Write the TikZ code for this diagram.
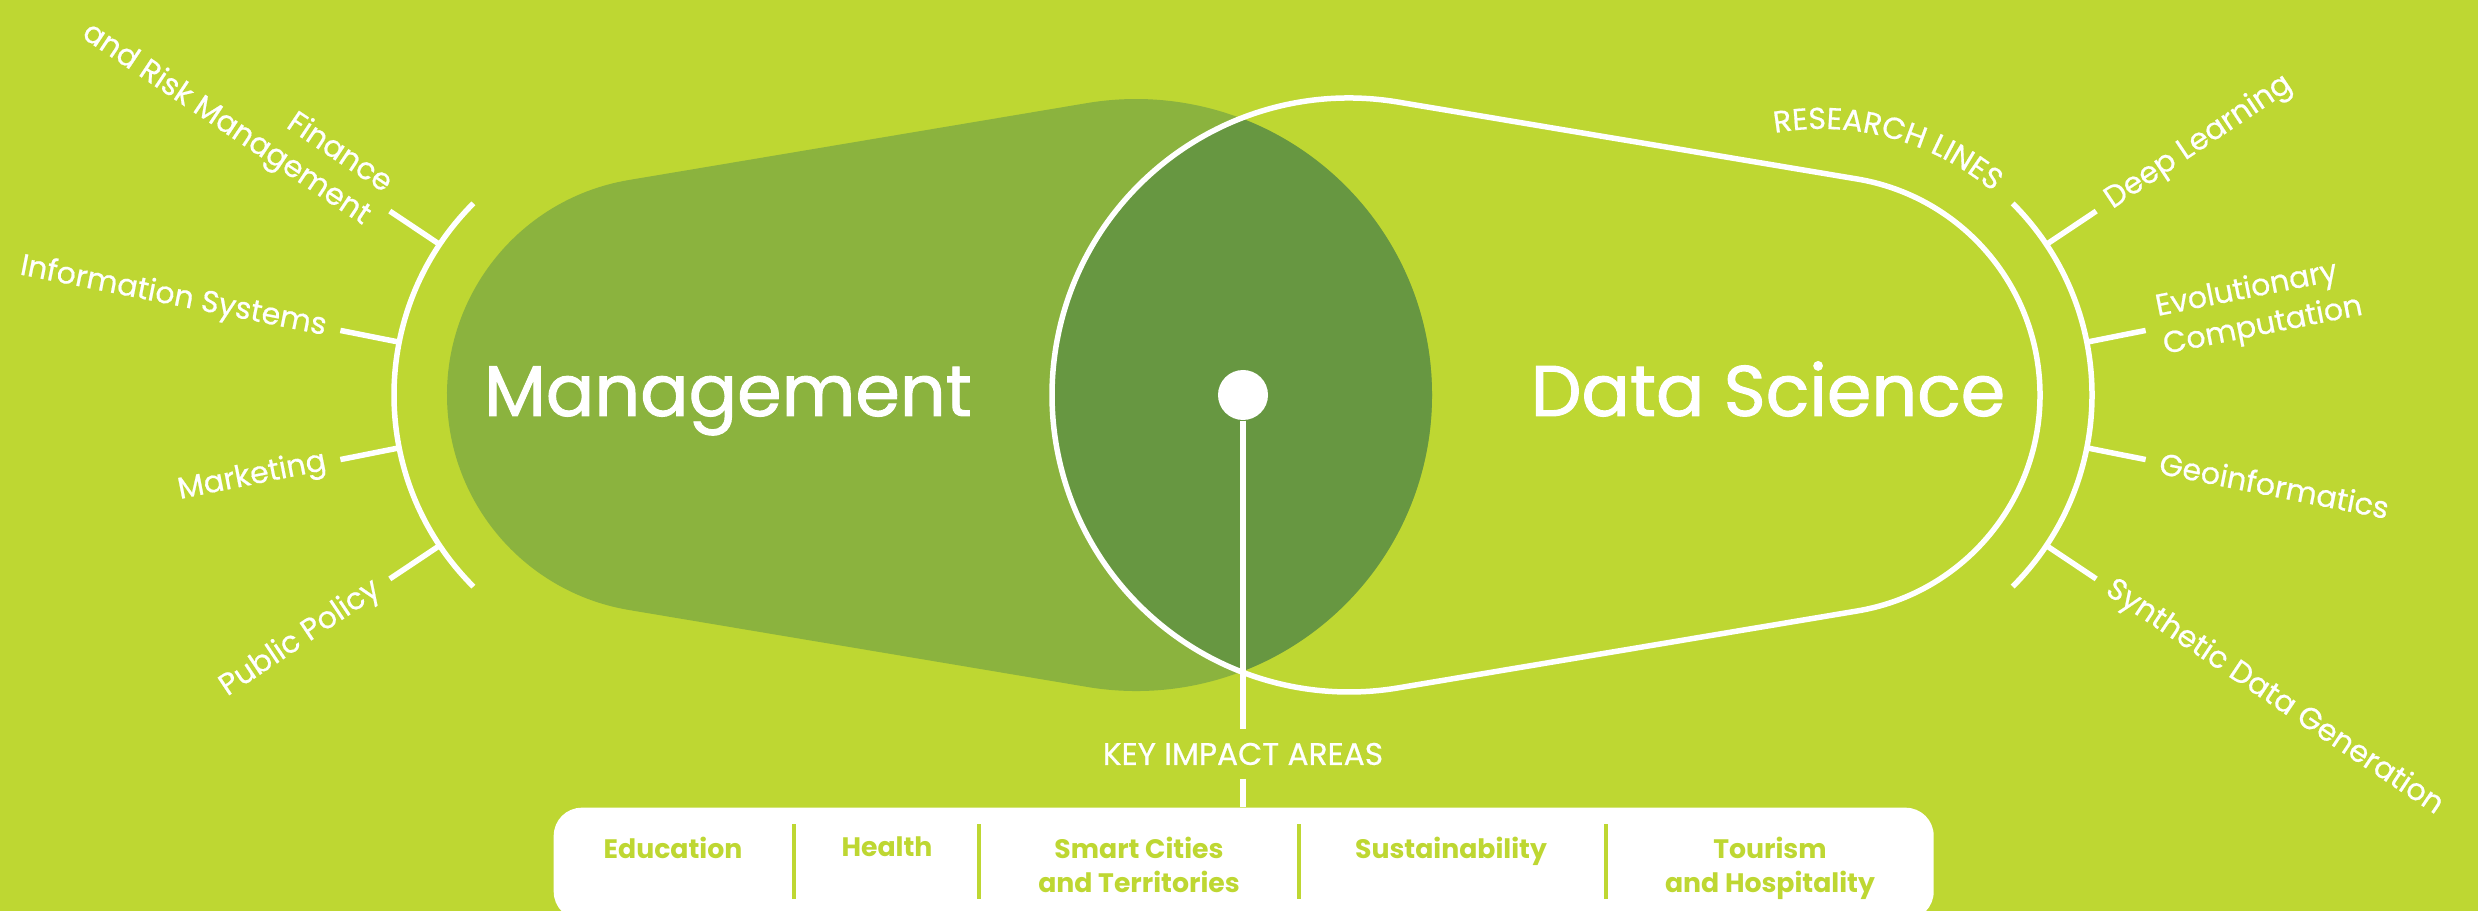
\documentclass[tikz,border=0pt]{standalone}
\usepackage{fontspec}
\setmainfont{Poppins}
\newfontfamily\headfont{Poppins}[FakeBold=1.3]
\newfontfamily\branchfont{Poppins}[FakeBold=0.6]
\usetikzlibrary{calc,positioning,decorations.text}

\definecolor{bggreen}{RGB}{190,215,50}
\definecolor{mgmtgreen}{RGB}{139,179,62}
\definecolor{overlapgreen}{RGB}{103,151,65}

\begin{document}
\begin{tikzpicture}[
    x=0.1mm, y=0.1mm,
    whiteline/.style={white, line width=0.55mm},
    branch/.style={text=white, inner sep=0pt, font=\branchfont\fontsize{8.6}{11}\selectfont},
    heading/.style={text=white, anchor=base, font=\headfont\fontsize{20.4}{24}\selectfont},
    area/.style={text=bggreen, anchor=north, inner sep=0pt, align=center, font=\bfseries\fontsize{7.6}{9.7}\selectfont},
    divider/.style={bggreen, line width=0.4mm}
]
    \useasboundingbox (0,0) rectangle (2478,911);
    \fill[bggreen] (0,0) rectangle (2478,911);

    % Management
    \fill[mgmtgreen] (665,516) ++(99.53:218) arc[start angle=99.53, end angle=260.47, radius=218]
        -- ($(1136,516)+(260.47:296)$) arc[start angle=260.47, end angle=459.53, radius=296] -- cycle;
    \begin{scope}
        \clip (1136,516) circle[radius=296];
        \fill[overlapgreen] (1349,516) circle[radius=297];
    \end{scope}

    % Data Science
    \draw[whiteline] (1349,516) ++(80.49:297) arc[start angle=80.49, end angle=279.51, radius=297]
        -- ($(1821,516)+(-80.49:219)$) arc[start angle=-80.49, end angle=80.49, radius=219] -- cycle;

    \node[heading] (mgmt) at (728,495) {Management};
    \node[heading] (ds) at (1768,495) {Data Science};

    % left bracket
    \draw[whiteline] (665,516) ++(135:271) arc[start angle=135, end angle=225, radius=271];
    \foreach \a in {146.25,168.75,191.25,213.75} {
        \draw[whiteline] ($(665,516)+(\a:271)$) -- ($(665,516)+(\a:331)$);
    }
    \node[branch, anchor=east, align=right, rotate=-33.75] (finance) at ($(665,516)+(146.25:345)$) {Finance\\and Risk Management};
    \node[branch, anchor=east, rotate=-11.25] (infosys) at ($(665,516)+(168.75:345)$) {Information Systems};
    \node[branch, anchor=east, rotate=11.25] (marketing) at ($(665,516)+(191.25:345)$) {Marketing};
    \node[branch, anchor=east, rotate=33.75] (policy) at ($(665,516)+(213.75:345)$) {Public Policy};

    % right bracket
    \draw[whiteline] (1821,516) ++(-45:271) arc[start angle=-45, end angle=45, radius=271];
    \foreach \a in {-33.75,-11.25,11.25,33.75} {
        \draw[whiteline] ($(1821,516)+(\a:271)$) -- ($(1821,516)+(\a:331)$);
    }
    \path[decorate, decoration={text along path, text align=left,
        text={|\color{white}\branchfont\fontsize{8.6}{11}\selectfont|RESEARCH LINES}}]
        (1821,516) ++(100:266) arc[start angle=100, end angle=20, radius=266];
    \node[branch, anchor=west, rotate=33.75] (deep) at ($(1821,516)+(33.75:345)$) {Deep Learning};
    \node[branch, anchor=west, align=left, rotate=11.25] (evo) at ($(1821,516)+(11.25:345)$) {Evolutionary\\Computation};
    \node[branch, anchor=west, rotate=-11.25] (geo) at ($(1821,516)+(-11.25:345)$) {Geoinformatics};
    \node[branch, anchor=west, rotate=-33.75] (synth) at ($(1821,516)+(-33.75:345)$) {Synthetic Data Generation};

    % Key impact areas
    \node[circle, fill=white, minimum size=5mm, inner sep=0pt] (dot) at (1243,516) {};
    \node[text=white, inner xsep=0pt, inner ysep=3.6pt, font=\branchfont\fontsize{8.9}{11}\selectfont] (kia) at (1243,157) {KEY IMPACT AREAS};
    \node[fill=white, rounded corners=2.8mm, minimum width=138mm, minimum height=11.2mm, anchor=north west, inner sep=0pt] (box) at (553,104) {};
    \draw[whiteline] (dot) -- (kia);
    \draw[whiteline] (kia) -- (kia |- box.north);

    \foreach \x in {794,979,1299,1606} {
        \draw[divider] (\x,87) -- (\x,12);
    }
    \node[area] (edu) at (673,75) {Education};
    \node[area] (health) at (887,75) {Health};
    \node[area] (cities) at (1139,75) {Smart Cities\\and Territories};
    \node[area] (sustain) at (1451,75) {Sustainability};
    \node[area] (tourism) at (1770,75) {Tourism\\and Hospitality};

\end{tikzpicture}
\end{document}
